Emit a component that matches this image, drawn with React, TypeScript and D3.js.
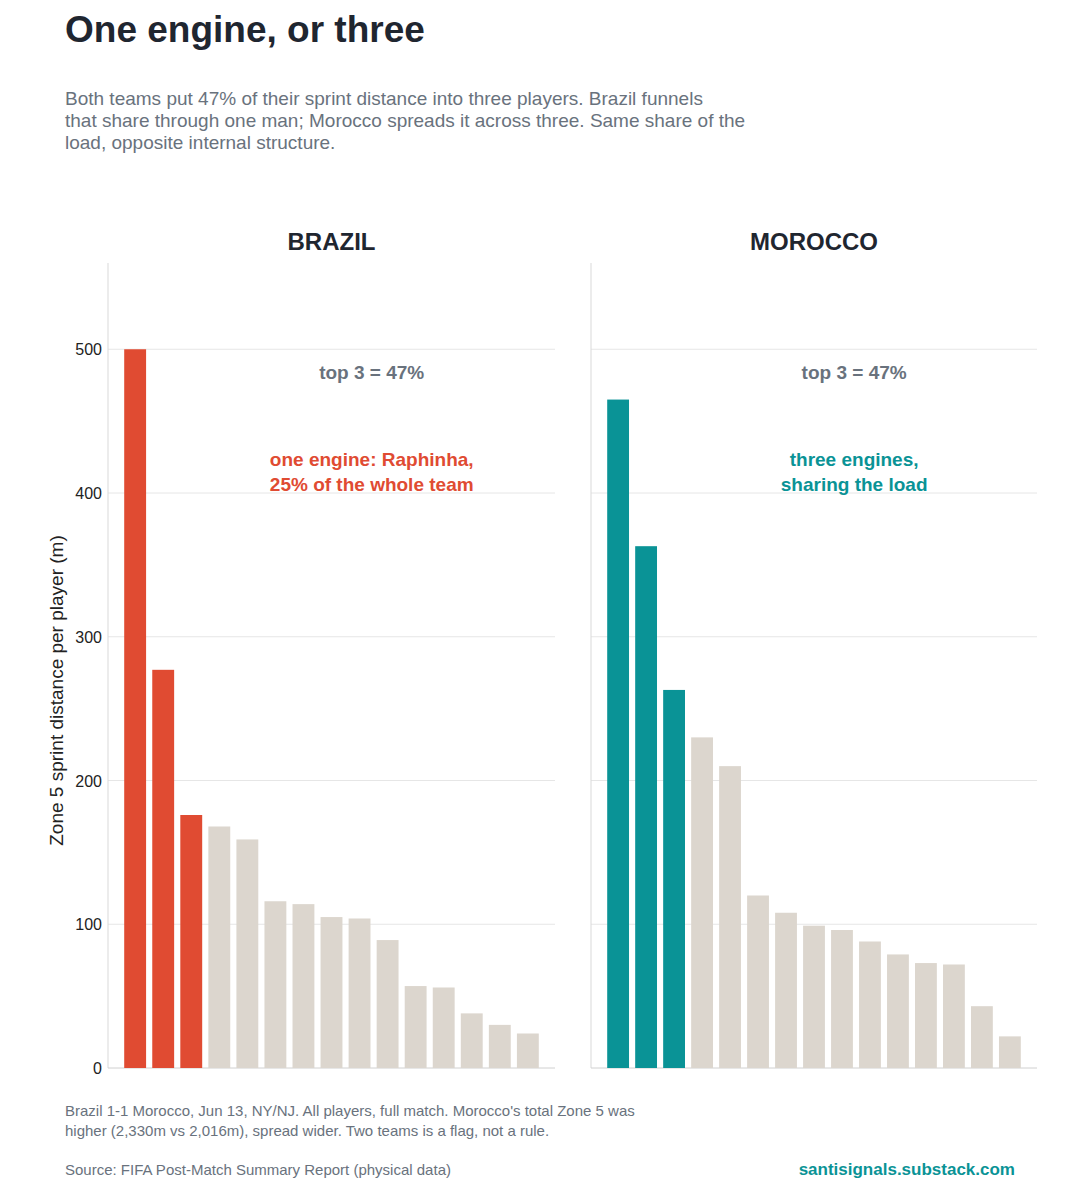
import * as d3 from "d3";

const brazil = [500, 277, 176, 168, 159, 116, 114, 105, 104, 89, 57, 56, 38, 30, 24];
const morocco = [465, 363, 263, 230, 210, 120, 108, 99, 96, 88, 79, 73, 72, 43, 22];
const yTicks = [0, 100, 200, 300, 400, 500];

const FONT = "'Liberation Sans', Arial, sans-serif";
const W = 1080;
const H = 1200;

const y = d3.scaleLinear().domain([0, 560]).range([1068, 263]);

function Panel({ x0, x1, title, values, color, note }: { x0: number; x1: number; title: string; values: number[]; color: string; note: string[] }) {
  const x = d3.scaleBand<number>().domain(d3.range(values.length)).range([x0 + 12, x1 - 12]).paddingInner(0.22).paddingOuter(0.15);
  const cx = x0 + (x1 - x0) * 0.59;
  return (
    <g>
      {yTicks.filter((t) => t > 0).map((t) => (
        <line key={t} x1={x0} x2={x1} y1={y(t)} y2={y(t)} stroke="#e6e6e6" />
      ))}
      <line x1={x0} x2={x0} y1={263} y2={1068} stroke="#d9d9d9" />
      <line x1={x0} x2={x1} y1={1068} y2={1068} stroke="#d0d0d0" />
      <text x={(x0 + x1) / 2} y={250} textAnchor="middle" fontSize={24} fontWeight="bold" fill="#1f2630">{title}</text>
      {values.map((v, i) => (
        <rect key={i} x={x(i)} width={x.bandwidth()} y={y(v)} height={y(0) - y(v)} fill={i < 3 ? color : "#dcd6ce"} />
      ))}
      <text x={cx} y={379} textAnchor="middle" fontSize={19} fontWeight="bold" fill="#69727d">top 3 = 47%</text>
      {note.map((s, i) => (
        <text key={i} x={cx} y={466 + i * 25} textAnchor="middle" fontSize={19} fontWeight="bold" fill={color}>{s}</text>
      ))}
    </g>
  );
}

export default function App() {
  return (
    <svg width={W} height={H} style={{ display: "block", margin: -8, fontFamily: FONT }}>
      <rect width={W} height={H} fill="#fff" />
      <text x={65} y={42} fontSize={37} fontWeight="bold" fill="#1f2630">One engine, or three</text>
      {["Both teams put 47% of their sprint distance into three players. Brazil funnels",
        "that share through one man; Morocco spreads it across three. Same share of the",
        "load, opposite internal structure."].map((s, i) => (
        <text key={i} x={65} y={105 + i * 22} fontSize={19} fill="#69727d">{s}</text>
      ))}
      {yTicks.map((t) => (
        <text key={t} x={102} y={y(t) + 6} textAnchor="end" fontSize={16} fill="#222">{t}</text>
      ))}
      <text transform={`translate(63,${(y(0) + 263) / 2 + 25}) rotate(-90)`} textAnchor="middle" fontSize={19} fill="#222">Zone 5 sprint distance per player (m)</text>
      <Panel x0={108} x1={555} title="BRAZIL" values={brazil} color="#e04b32" note={["one engine: Raphinha,", "25% of the whole team"]} />
      <Panel x0={591} x1={1037} title="MOROCCO" values={morocco} color="#0a9396" note={["three engines,", "sharing the load"]} />
      <text x={65} y={1116} fontSize={15} fill="#69727d">Brazil 1-1 Morocco, Jun 13, NY/NJ. All players, full match. Morocco's total Zone 5 was</text>
      <text x={65} y={1136} fontSize={15} fill="#69727d">higher (2,330m vs 2,016m), spread wider. Two teams is a flag, not a rule.</text>
      <text x={65} y={1175} fontSize={15} fill="#69727d">Source: FIFA Post-Match Summary Report (physical data)</text>
      <text x={1015} y={1175} textAnchor="end" fontSize={17} fontWeight="bold" fill="#0a9396">santisignals.substack.com</text>
    </svg>
  );
}
